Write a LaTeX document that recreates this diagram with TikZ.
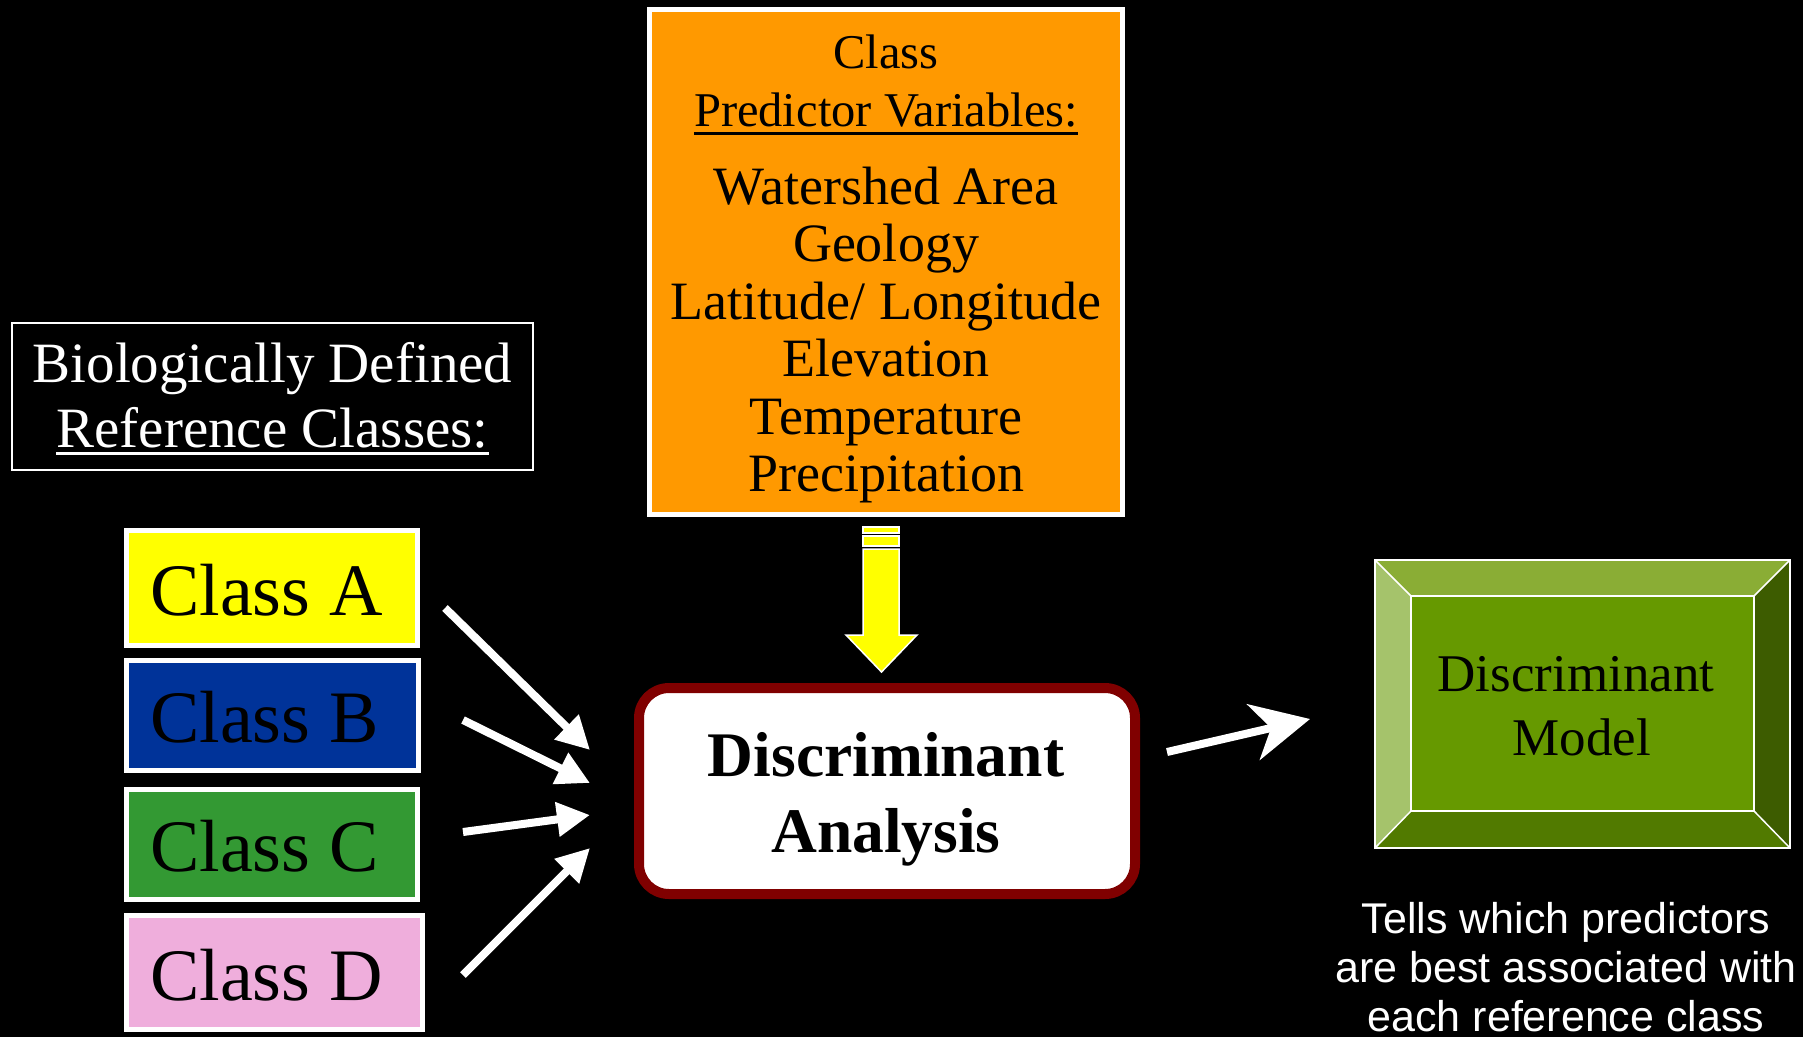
\documentclass[tikz,border=0pt]{standalone}
\usepackage{fontspec}
\setmainfont{Liberation Serif}
\newfontfamily\arialfont{Liberation Sans}
\usetikzlibrary{arrows.meta}
\definecolor{clsyellow}{HTML}{FFFF00}
\definecolor{clsblue}{HTML}{003399}
\definecolor{clsgreen}{HTML}{339933}
\definecolor{clspink}{HTML}{EFAEDC}
\definecolor{predorange}{HTML}{FF9900}
\definecolor{darkred}{HTML}{800000}
\definecolor{gcenter}{HTML}{669900}
\definecolor{gtop}{HTML}{8AAD35}
\definecolor{gleft}{HTML}{A5C36B}
\definecolor{gright}{HTML}{3D5C00}
\definecolor{gbottom}{HTML}{517A00}
\tikzset{
  txt/.style={inner sep=0pt, anchor=base},
  clsbox/.style={draw=white, line width=5pt, inner sep=0pt},
  clstxt/.style={inner sep=0pt, anchor=base west, font=\fontsize{74pt}{80pt}\selectfont},
  predtxt/.style={txt, font=\fontsize{54pt}{60pt}\selectfont},
  biotxt/.style={txt, text=white, font=\fontsize{57pt}{62pt}\selectfont},
  modtxt/.style={txt, font=\fontsize{53pt}{58pt}\selectfont},
  anatxt/.style={txt, font=\fontsize{63.5pt}{68pt}\selectfont\bfseries},
  notetxt/.style={txt, text=white, font=\fontsize{43pt}{48pt}\selectfont\arialfont},
  inarrow/.style={draw=white, line width=8pt, -{Triangle[length=33pt,width=33pt]}},
  outarrow/.style={draw=white, line width=8pt, -{Stealth[length=58pt,width=57pt,inset=18pt]}},
  bevel/.style={draw=white, line width=1.5pt, line join=miter},
}
\begin{document}
\begin{tikzpicture}[x=1pt,y=-1pt]
\fill[black] (0,0) rectangle (1803,1037);
\useasboundingbox (0,0) rectangle (1803,1037);

% Biologically defined box
\node[draw=white, line width=2pt, minimum width=521pt, minimum height=147pt, inner sep=0pt] (bio) at (272.5,396.5) {};
\node[biotxt] (bio1) at (272.5,382) {Biologically Defined};
\node[biotxt] (bio2) at (272.5,447) {Reference Classes:};
\draw[white, line width=3pt] ([yshift=-6pt]bio2.base west) -- ([yshift=-6pt]bio2.base east);

% Class boxes
\node[clsbox, fill=clsyellow, minimum width=291pt, minimum height=115pt] (A) at (272,588) {};
\node[clsbox, fill=clsblue, minimum width=292pt, minimum height=110pt] (B) at (272.5,715.5) {};
\node[clsbox, fill=clsgreen, minimum width=291pt, minimum height=110pt] (C) at (272,844.5) {};
\node[clsbox, fill=clspink, minimum width=296pt, minimum height=114pt] (D) at (274.5,972.5) {};
\node[clstxt] (At) at (150,615) {Class A};
\node[clstxt] (Bt) at (150,742) {Class B};
\node[clstxt] (Ct) at (150,871) {Class C};
\node[clstxt] (Dt) at (150,1000) {Class D};

% Predictor box
\node[draw=white, line width=5pt, fill=predorange, minimum width=473pt, minimum height=505pt, inner sep=0pt] (pred) at (886,262) {};
\node[txt, font=\fontsize{48.5pt}{52pt}\selectfont] (p0) at (886,68) {Class};
\node[txt, font=\fontsize{48.5pt}{52pt}\selectfont] (p1) at (886,126) {Predictor Variables:};
\draw[black, line width=3pt] ([yshift=-7pt]p1.base west) -- ([yshift=-7pt]p1.base east);
\node[predtxt] (p2) at (886,204) {Watershed Area};
\node[predtxt] (p3) at (886,261.5) {Geology};
\node[predtxt] (p4) at (886,319) {Latitude/ Longitude};
\node[predtxt] (p5) at (886,376.5) {Elevation};
\node[predtxt] (p6) at (886,434) {Temperature};
\node[predtxt] (p7) at (886,491.5) {Precipitation};

% Yellow block arrow
\draw[white, line width=1.5pt, fill=clsyellow] (863,527) rectangle (899,533);
\draw[white, line width=1.5pt, fill=clsyellow] (863,536) rectangle (899,546);
\draw[white, line width=1.5pt, fill=clsyellow, line join=miter]
  (863,549) -- (899,549) -- (899,635) -- (917,635) -- (881.5,672) -- (846,635) -- (863,635) -- cycle;

% Discriminant analysis box
\node[draw=darkred, line width=10pt, fill=white, rounded corners=30pt, minimum width=496pt, minimum height=206pt, inner sep=0pt] (DA) at (887,791) {};
\node[anatxt] (DA1) at (886,776) {Discriminant};
\node[anatxt] (DA2) at (886,852) {Analysis};

% Discriminant model box (bevel)
\node[minimum width=415pt, minimum height=288pt, inner sep=0pt] (M) at (1582.5,704) {};
\coordinate (o1) at (1375,560); \coordinate (o2) at (1790,560);
\coordinate (o3) at (1790,848); \coordinate (o4) at (1375,848);
\coordinate (i1) at (1411,596); \coordinate (i2) at (1754,596);
\coordinate (i3) at (1754,811); \coordinate (i4) at (1411,811);
\fill[gtop] (o1) -- (o2) -- (i2) -- (i1) -- cycle;
\fill[gright] (o2) -- (o3) -- (i3) -- (i2) -- cycle;
\fill[gbottom] (o4) -- (o3) -- (i3) -- (i4) -- cycle;
\fill[gleft] (o1) -- (o4) -- (i4) -- (i1) -- cycle;
\fill[gcenter] (i1) rectangle (i3);
\draw[bevel] (o1) rectangle (o3);
\draw[bevel] (i1) rectangle (i3);
\draw[bevel] (o1) -- (i1) (o2) -- (i2) (o3) -- (i3) (o4) -- (i4);
\node[modtxt] (M1) at (1576,691) {Discriminant};
\node[modtxt] (M2) at (1582,755) {Model};

% Note text
\node[notetxt] (n1) at (1566,933) {Tells which predictors};
\node[notetxt] (n2) at (1566,982) {are best associated with};
\node[notetxt] (n3) at (1566,1031) {each reference class};

% Arrows
\coordinate (a1) at (445,608); \coordinate (a2) at (590,750);
\coordinate (b1) at (463,720); \coordinate (b2) at (590,783);
\coordinate (c1) at (463,832); \coordinate (c2) at (590,815);
\coordinate (d1) at (463,975); \coordinate (d2) at (590,848);
\draw[inarrow] (a1) -- (a2);
\draw[inarrow] (b1) -- (b2);
\draw[inarrow] (c1) -- (c2);
\draw[inarrow] (d1) -- (d2);
\coordinate (m1) at (1167,752); \coordinate (m2) at (1310,719);
\draw[outarrow] (m1) -- (m2);
\end{tikzpicture}
\end{document}
